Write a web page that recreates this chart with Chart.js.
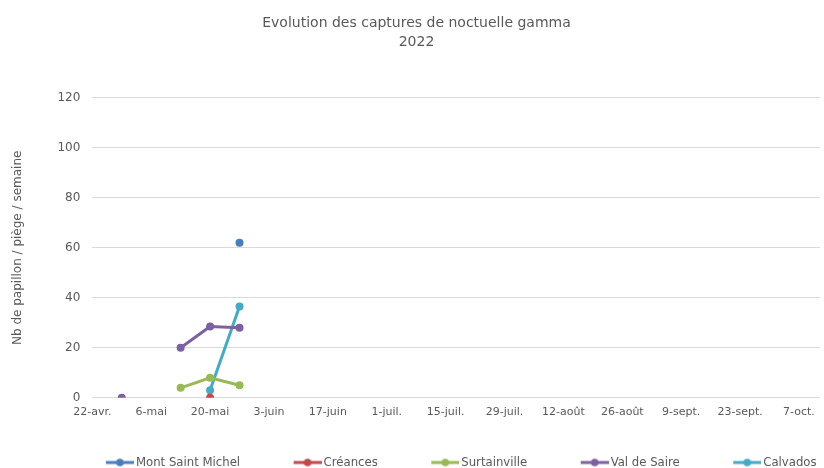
<!DOCTYPE html>
<html>
<head>
<meta charset="utf-8">
<script src="https://cdn.jsdelivr.net/npm/chart.js@4/dist/chart.umd.min.js"></script>
<style>
    html, body { margin: 0; padding: 0; background: #fff; }
    #wrap { width: 824px; height: 468px; position: relative; }
</style>
</head>
<body>
<div id="wrap"><canvas id="chart"></canvas></div>
<script>
// Days counted from 22-avr. (sampling weeks and axis ticks)
const weekDays = [7, 14, 21, 28, 35];          // 29-avr. .. 27-mai
const tickDays = [0, 14, 28, 42, 56, 70, 84, 98, 112, 126, 140, 154, 168];
const tickLabels = ['22-avr.', '6-mai', '20-mai', '3-juin', '17-juin', '1-juil.', '15-juil.',
    '29-juil.', '12-août', '26-août', '9-sept.', '23-sept.', '7-oct.'];

const montSaintMichel = [null, null, null, null, 62];
const creances        = [null, null, null, 0, null];
const surtainville    = [null, null, 4, 8, 5];
const valDeSaire      = [0, null, 20, 28.5, 28];
const calvados        = [null, null, null, 3, 36.5];

const seriesNames  = ['Mont Saint Michel', 'Créances', 'Surtainville', 'Val de Saire', 'Calvados'];
const seriesValues = [montSaintMichel, creances, surtainville, valDeSaire, calvados];
const seriesColors = ['#4a7ebb', '#be4b48', '#98b954', '#7d60a0', '#46aac5'];

const TEXT = '#595959';
const MARKER_BOX = 67;    // legend box width (includes blank gap before the line)
const MARKER_LINE = 28;   // visible legend line length

/**
 * Legend marker: blank gap, then a line with a dot in the middle.
 * The image is a bit wider than the box so the line ends close to the text.
 */
function legendMarker(color) {
    const c = document.createElement('canvas');
    c.width = MARKER_BOX + 9; c.height = 10;
    const ctx = c.getContext('2d');
    const x1 = c.width, x0 = x1 - MARKER_LINE;
    ctx.strokeStyle = color;
    ctx.lineWidth = 3;
    ctx.beginPath();
    ctx.moveTo(x0, 5); ctx.lineTo(x1, 5);
    ctx.stroke();
    ctx.fillStyle = color;
    ctx.beginPath();
    ctx.arc((x0 + x1) / 2, 5, 3.8, 0, Math.PI * 2);
    ctx.fill();
    return c;
}

const datasets = seriesNames.map((name, i) => ({
    label: name,
    data: weekDays.map((d, j) => ({ x: d, y: seriesValues[i][j] })),
    borderColor: seriesColors[i],
    backgroundColor: seriesColors[i],
    borderWidth: 3,
    pointRadius: 4,
    pointHoverRadius: 4,
    pointBorderWidth: 0,
    spanGaps: false,
    marker: legendMarker(seriesColors[i])
}));

// move the legend row to sit under the plot centre, like the original
const legendShift = {
    id: 'legendShift',
    afterLayout(chart) {
        chart.legend.left += 23;
        chart.legend.right += 23;
    }
};

new Chart(document.getElementById('chart'), {
    type: 'line',
    data: { datasets: datasets },
    plugins: [legendShift],
    options: {
        responsive: true,
        maintainAspectRatio: false,
        animation: false,
        layout: { padding: { left: 11, right: 2, top: 10, bottom: -11 } },
        scales: {
            x: {
                type: 'linear',
                min: 0,
                max: 173,
                afterBuildTicks(scale) {
                    scale.ticks = tickDays.map(v => ({ value: v }));
                },
                afterFit(scale) {
                    scale.height += 27;   // room between date labels and legend
                },
                ticks: {
                    autoSkip: false,
                    maxRotation: 0,
                    padding: 0,
                    color: TEXT,
                    font: { family: 'DejaVu Sans', size: 11 },
                    callback: (v) => tickLabels[tickDays.indexOf(v)]
                },
                grid: { display: false },
                border: { display: false }
            },
            y: {
                min: 0,
                max: 120,
                ticks: {
                    stepSize: 20,
                    padding: 12,
                    color: TEXT,
                    font: { family: 'DejaVu Sans', size: 12 }
                },
                grid: { color: '#d9d9d9', lineWidth: 1, drawTicks: false },
                border: { display: false },
                title: {
                    display: true,
                    text: 'Nb de papillon / piège / semaine',
                    color: TEXT,
                    font: { family: 'DejaVu Sans', size: 12 },
                    padding: { top: 0, bottom: 20 }
                }
            }
        },
        plugins: {
            title: {
                display: true,
                text: ['Evolution des captures de noctuelle gamma', '2022'],
                color: TEXT,
                font: { family: 'DejaVu Sans', size: 14, weight: 'normal', lineHeight: 1.35 },
                padding: { top: 4, bottom: 46 }
            },
            legend: {
                position: 'bottom',
                labels: {
                    usePointStyle: true,
                    pointStyleWidth: MARKER_BOX,
                    padding: 10,
                    color: TEXT,
                    font: { family: 'DejaVu Sans Condensed', size: 13 },
                    generateLabels(chart) {
                        return chart.data.datasets.map((ds, i) => ({
                            text: ds.label,
                            pointStyle: ds.marker,
                            fontColor: TEXT,
                            strokeStyle: ds.borderColor,
                            fillStyle: ds.borderColor,
                            lineWidth: 0,
                            hidden: false,
                            datasetIndex: i
                        }));
                    }
                }
            },
            tooltip: { enabled: false }
        }
    }
});
</script>
</body>
</html>
